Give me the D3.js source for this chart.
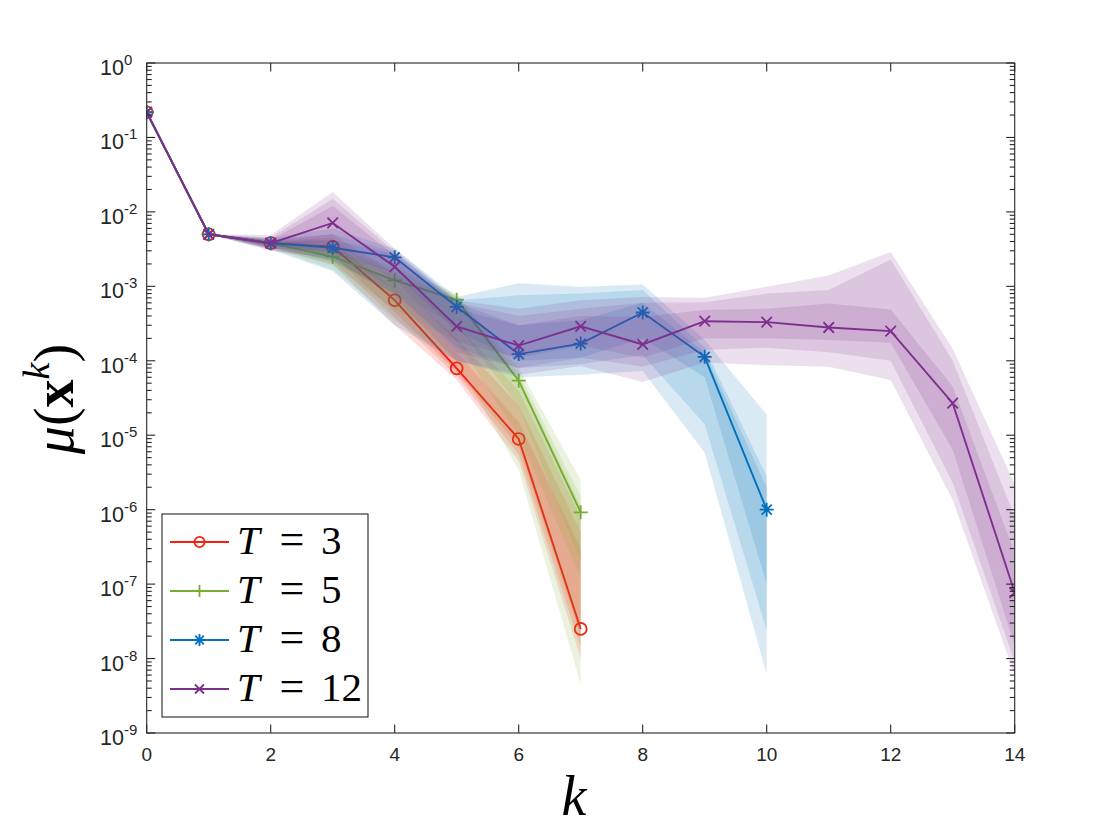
<!DOCTYPE html>
<html>
<head>
<meta charset="utf-8">
<script src="https://cdn.jsdelivr.net/npm/d3@7"></script>
<style>
  html, body { margin: 0; padding: 0; background: #ffffff; }
  svg { display: block; }
</style>
</head>
<body>
<svg id="chart" width="1120" height="840"></svg>
<script>
// ---------------- DATA ----------------
const seriesNames = ["T = 3", "T = 5", "T = 8", "T = 12"];
const xTicks = [0, 2, 4, 6, 8, 10, 12, 14];
const yTickExps = [0, -1, -2, -3, -4, -5, -6, -7, -8, -9];

const k3 = [0, 1, 2, 3, 4, 5, 6, 7];
const v3 = [0.218, 0.005, 0.0038, 0.0034, 6.5e-4, 7.9e-5, 8.9e-6, 2.5e-8];
const t3UpOuter = [0.218, 0.005, 4.3e-3, 5.0e-3, 1.5e-3, 3.0e-4, 4.0e-5, 8e-7];
const t3UpMid   = [0.218, 0.005, 4.1e-3, 4.5e-3, 1.1e-3, 2.0e-4, 2.5e-5, 5e-7];
const t3UpInner = [0.218, 0.005, 3.9e-3, 4.0e-3, 9.0e-4, 1.3e-4, 1.5e-5, 3e-7];
const t3LoInner = [0.218, 0.005, 3.6e-3, 2.6e-3, 4.5e-4, 7.0e-5, 7.0e-6, 2e-8];
const t3LoMid   = [0.218, 0.005, 3.4e-3, 2.2e-3, 3.8e-4, 6.3e-5, 5.5e-6, 1.4e-8];
const t3LoOuter = [0.218, 0.005, 3.2e-3, 2.0e-3, 3.0e-4, 5.5e-5, 4.5e-6, 1e-8];

const k5 = [0, 1, 2, 3, 4, 5, 6, 7];
const v5 = [0.218, 0.005, 0.0038, 2.5e-3, 1.2e-3, 6.6e-4, 5.4e-5, 9.2e-7];
const t5UpOuter = [0.218, 0.005, 4.3e-3, 3.5e-3, 1.8e-3, 8.0e-4, 8.0e-5, 2.5e-6];
const t5UpMid   = [0.218, 0.005, 4.1e-3, 3.2e-3, 1.6e-3, 7.5e-4, 6.8e-5, 1.5e-6];
const t5UpInner = [0.218, 0.005, 3.9e-3, 3.0e-3, 1.4e-3, 7.0e-4, 6.0e-5, 1.1e-6];
const t5LoInner = [0.218, 0.005, 3.6e-3, 2.1e-3, 8.0e-4, 3.0e-4, 2.5e-5, 2e-7];
const t5LoMid   = [0.218, 0.005, 3.4e-3, 1.9e-3, 5.0e-4, 1.8e-4, 1.0e-5, 1.2e-7];
const t5LoOuter = [0.218, 0.005, 3.2e-3, 1.7e-3, 3.5e-4, 1.0e-4, 3.4e-6, 4.5e-9];

const k8 = [0, 1, 2, 3, 4, 5, 6, 7, 8, 9, 10];
const v8 = [0.218, 0.005, 0.0038, 3.3e-3, 2.45e-3, 5.3e-4, 1.23e-4, 1.7e-4, 4.45e-4, 1.13e-4, 1.0e-6];
const t8UpOuter = [0.218, 0.005, 4.5e-3, 6.0e-3, 3.2e-3, 7.2e-4, 1.1e-3, 9.9e-4, 1.06e-3, 1.9e-4, 1.9e-5];
const t8UpMid   = [0.218, 0.005, 4.2e-3, 5.0e-3, 2.9e-3, 6.5e-4, 7.6e-4, 8.0e-4, 8.9e-4, 1.5e-4, 2.8e-6];
const t8UpInner = [0.218, 0.005, 4.0e-3, 4.2e-3, 2.7e-3, 6.0e-4, 3.0e-4, 3.5e-4, 6.0e-4, 1.3e-4, 2.0e-6];
const t8LoInner = [0.218, 0.005, 3.5e-3, 2.8e-3, 1.5e-3, 2.5e-4, 1.0e-4, 1.1e-4, 2.0e-4, 6.0e-5, 1.0e-7];
const t8LoMid   = [0.218, 0.005, 3.3e-3, 2.2e-3, 8.0e-4, 1.5e-4, 8.0e-5, 9.0e-5, 1.2e-4, 1.4e-5, 2.4e-8];
const t8LoOuter = [0.218, 0.005, 3.1e-3, 1.6e-3, 3.0e-4, 1.0e-4, 6.0e-5, 6.5e-5, 7.3e-5, 5.8e-6, 6.2e-9];

const k12 = [0, 1, 2, 3, 4, 5, 6, 7, 8, 9, 10, 11, 12, 13, 14];
const v12 = [0.218, 0.005, 0.0038, 7.1e-3, 1.83e-3, 2.9e-4, 1.6e-4, 2.9e-4, 1.66e-4, 3.4e-4, 3.3e-4, 2.8e-4, 2.5e-4, 2.7e-5, 7.7e-8];
const t12UpOuter = [0.218, 0.005, 4.9e-3, 1.85e-2, 3.2e-3, 6.5e-4, 5.0e-4, 6.5e-4, 7.2e-4, 7.0e-4, 9.9e-4, 1.4e-3, 2.9e-3, 1.45e-4, 2.2e-6];
const t12UpMid   = [0.218, 0.005, 4.5e-3, 1.5e-2, 2.9e-3, 6.0e-4, 4.0e-4, 5.0e-4, 6.0e-4, 6.1e-4, 8.0e-4, 8.9e-4, 2.3e-3, 1.0e-4, 8e-7];
const t12UpInner = [0.218, 0.005, 4.2e-3, 1.2e-2, 2.6e-3, 5.0e-4, 3.0e-4, 4.0e-4, 3.9e-4, 4.8e-4, 5.0e-4, 5.9e-4, 4.9e-4, 4.5e-5, 2.6e-7];
const t12LoInner = [0.218, 0.005, 3.5e-3, 4.0e-3, 1.2e-3, 1.8e-4, 1.1e-4, 1.6e-4, 1.1e-4, 2.0e-4, 2.0e-4, 1.9e-4, 1.75e-4, 6.4e-6, 1.5e-8];
const t12LoMid   = [0.218, 0.005, 3.2e-3, 3.0e-3, 9.0e-4, 1.3e-4, 8.0e-5, 1.1e-4, 8.4e-5, 1.4e-4, 1.5e-4, 1.3e-4, 1.0e-4, 2.3e-6, 9e-9];
const t12LoOuter = [0.218, 0.005, 3.0e-3, 2.4e-3, 7.0e-4, 1.0e-4, 6.5e-5, 8.5e-5, 5.2e-5, 9.5e-5, 8.7e-5, 8.3e-5, 5.5e-5, 1.35e-6, 6e-9];

const colors = ["#f2200f", "#77ac30", "#0072bd", "#7e2f8e"];
const markerTypes = ["circle", "plus", "star", "cross"];

// ---------------- BUILD ----------------
const series = [
  {k: k3, v: v3, bands: [[t3LoOuter, t3UpOuter], [t3LoMid, t3UpMid], [t3LoInner, t3UpInner]]},
  {k: k5, v: v5, bands: [[t5LoOuter, t5UpOuter], [t5LoMid, t5UpMid], [t5LoInner, t5UpInner]]},
  {k: k8, v: v8, bands: [[t8LoOuter, t8UpOuter], [t8LoMid, t8UpMid], [t8LoInner, t8UpInner]]},
  {k: k12, v: v12, bands: [[t12LoOuter, t12UpOuter], [t12LoMid, t12UpMid], [t12LoInner, t12UpInner]]}
];

const L = 146.7, R = 1014.7, T = 63, B = 733;
const x = d3.scaleLinear().domain([0, 14]).range([L, R]);
const y = d3.scaleLog().domain([1e-9, 1]).range([B, T]);

const svg = d3.select("#chart");
const axisColor = "#262626";
const tickFont = "'Liberation Sans', Arial, Helvetica, sans-serif";

svg.append("defs").append("clipPath").attr("id", "clip")
  .append("rect").attr("x", L).attr("y", T).attr("width", R - L).attr("height", B - T);

const plot = svg.append("g").attr("clip-path", "url(#clip)");

function markerPath(type, s) {
  if (type === "plus") return `M${-s},0H${s}M0,${-s}V${s}`;
  if (type === "cross") { const a = s * 0.75; return `M${-a},${-a}L${a},${a}M${-a},${a}L${a},${-a}`; }
  if (type === "star") { const a = s * 0.72; return `M${-s},0H${s}M0,${-s}V${s}M${-a},${-a}L${a},${a}M${-a},${a}L${a},${-a}`; }
  return "";
}

function drawMarker(g, type, cx, cy, color, s) {
  if (type === "circle") {
    g.append("circle").attr("cx", cx).attr("cy", cy).attr("r", s * 0.85)
      .attr("fill", "none").attr("stroke", color).attr("stroke-width", 1.8);
  } else {
    g.append("path").attr("transform", `translate(${cx},${cy})`).attr("d", markerPath(type, s))
      .attr("fill", "none").attr("stroke", color).attr("stroke-width", 1.8);
  }
}

series.forEach((s, i) => {
  const g = plot.append("g");
  s.bands.forEach(([lo, hi]) => {
    const area = d3.area()
      .x((d, j) => x(s.k[j]))
      .y0((d, j) => y(lo[j]))
      .y1((d, j) => y(hi[j]));
    g.append("path").datum(s.k).attr("d", area)
      .attr("fill", colors[i]).attr("fill-opacity", 0.15).attr("stroke", "none");
  });
  const line = d3.line().x((d, j) => x(s.k[j])).y((d, j) => y(s.v[j]));
  g.append("path").datum(s.k).attr("d", line)
    .attr("fill", "none").attr("stroke", colors[i]).attr("stroke-width", 1.9);
  s.k.forEach((kk, j) => drawMarker(g, markerTypes[i], x(kk), y(s.v[j]), colors[i], 7));
});

// ---------------- AXES ----------------
const axes = svg.append("g");
axes.append("rect").attr("x", L).attr("y", T).attr("width", R - L).attr("height", B - T)
  .attr("fill", "none").attr("stroke", axisColor).attr("stroke-width", 1.1);

// x ticks (bottom & top, inward)
xTicks.forEach(t => {
  const px = x(t);
  axes.append("line").attr("x1", px).attr("x2", px).attr("y1", B).attr("y2", B - 8.5)
    .attr("stroke", axisColor).attr("stroke-width", 1.1);
  axes.append("line").attr("x1", px).attr("x2", px).attr("y1", T).attr("y2", T + 8.5)
    .attr("stroke", axisColor).attr("stroke-width", 1.1);
  axes.append("text").attr("x", px).attr("y", B + 28).attr("text-anchor", "middle")
    .attr("font-family", tickFont).attr("font-size", "19px").attr("fill", axisColor).text(t);
});

// y ticks (major & minor, left & right, inward)
yTickExps.forEach(e => {
  const py = y(Math.pow(10, e));
  [[L, 1], [R, -1]].forEach(([px, dir]) => {
    axes.append("line").attr("x1", px).attr("x2", px + dir * 8.5).attr("y1", py).attr("y2", py)
      .attr("stroke", axisColor).attr("stroke-width", 1.1);
  });
  const txt = axes.append("text").attr("x", 100).attr("y", py + 12).attr("text-anchor", "start")
    .attr("font-family", tickFont).attr("font-size", "21.5px").attr("fill", axisColor);
  txt.append("tspan").text("10");
  txt.append("tspan").attr("dy", -10).attr("font-size", "15px").text(String(e));
  if (e > -9) {
    for (let m = 2; m <= 9; m++) {
      const pm = y(m * Math.pow(10, e - 1));
      [[L, 1], [R, -1]].forEach(([px, dir]) => {
        axes.append("line").attr("x1", px).attr("x2", px + dir * 5).attr("y1", pm).attr("y2", pm)
          .attr("stroke", axisColor).attr("stroke-width", 1.1);
      });
    }
  }
});

// axis labels
const serif = "'Liberation Serif', 'Times New Roman', serif";
axes.append("text").attr("x", 574).attr("y", 815).attr("text-anchor", "middle")
  .attr("font-family", serif).attr("font-style", "italic").attr("font-size", "56px")
  .attr("fill", "#000").text("k");

const yl = axes.append("text").attr("transform", "translate(73,399) rotate(-90)")
  .attr("text-anchor", "middle").attr("font-family", serif).attr("font-size", "56px").attr("fill", "#000");
yl.append("tspan").attr("font-style", "italic").text("μ");
yl.append("tspan").text("(");
yl.append("tspan").attr("font-weight", "bold").text("x");
yl.append("tspan").attr("font-style", "italic").attr("font-size", "38px").attr("dy", -24).text("k");
yl.append("tspan").attr("dy", 24).text(")");

// ---------------- LEGEND ----------------
const lg = svg.append("g");
lg.append("rect").attr("x", 162).attr("y", 514).attr("width", 206).attr("height", 203)
  .attr("fill", "#fff").attr("stroke", axisColor).attr("stroke-width", 1.1);
seriesNames.forEach((name, i) => {
  const cy = 542 + i * 49;
  lg.append("line").attr("x1", 170).attr("x2", 229).attr("y1", cy).attr("y2", cy)
    .attr("stroke", colors[i]).attr("stroke-width", 1.9);
  drawMarker(lg, markerTypes[i], 199.5, cy, colors[i], 6);
  const parts = name.split(" = ");
  lg.append("text").attr("x", 237).attr("y", cy + 12).attr("font-family", serif)
    .attr("font-style", "italic").attr("font-size", "41px").attr("fill", "#000").text(parts[0]);
  lg.append("text").attr("x", 292).attr("y", cy + 12).attr("text-anchor", "middle")
    .attr("font-family", serif).attr("font-size", "44px").attr("fill", "#000").text("=");
  lg.append("text").attr("x", 321).attr("y", cy + 12).attr("font-family", serif)
    .attr("font-size", "41px").attr("fill", "#000").text(parts[1]);
});
</script>
</body>
</html>
